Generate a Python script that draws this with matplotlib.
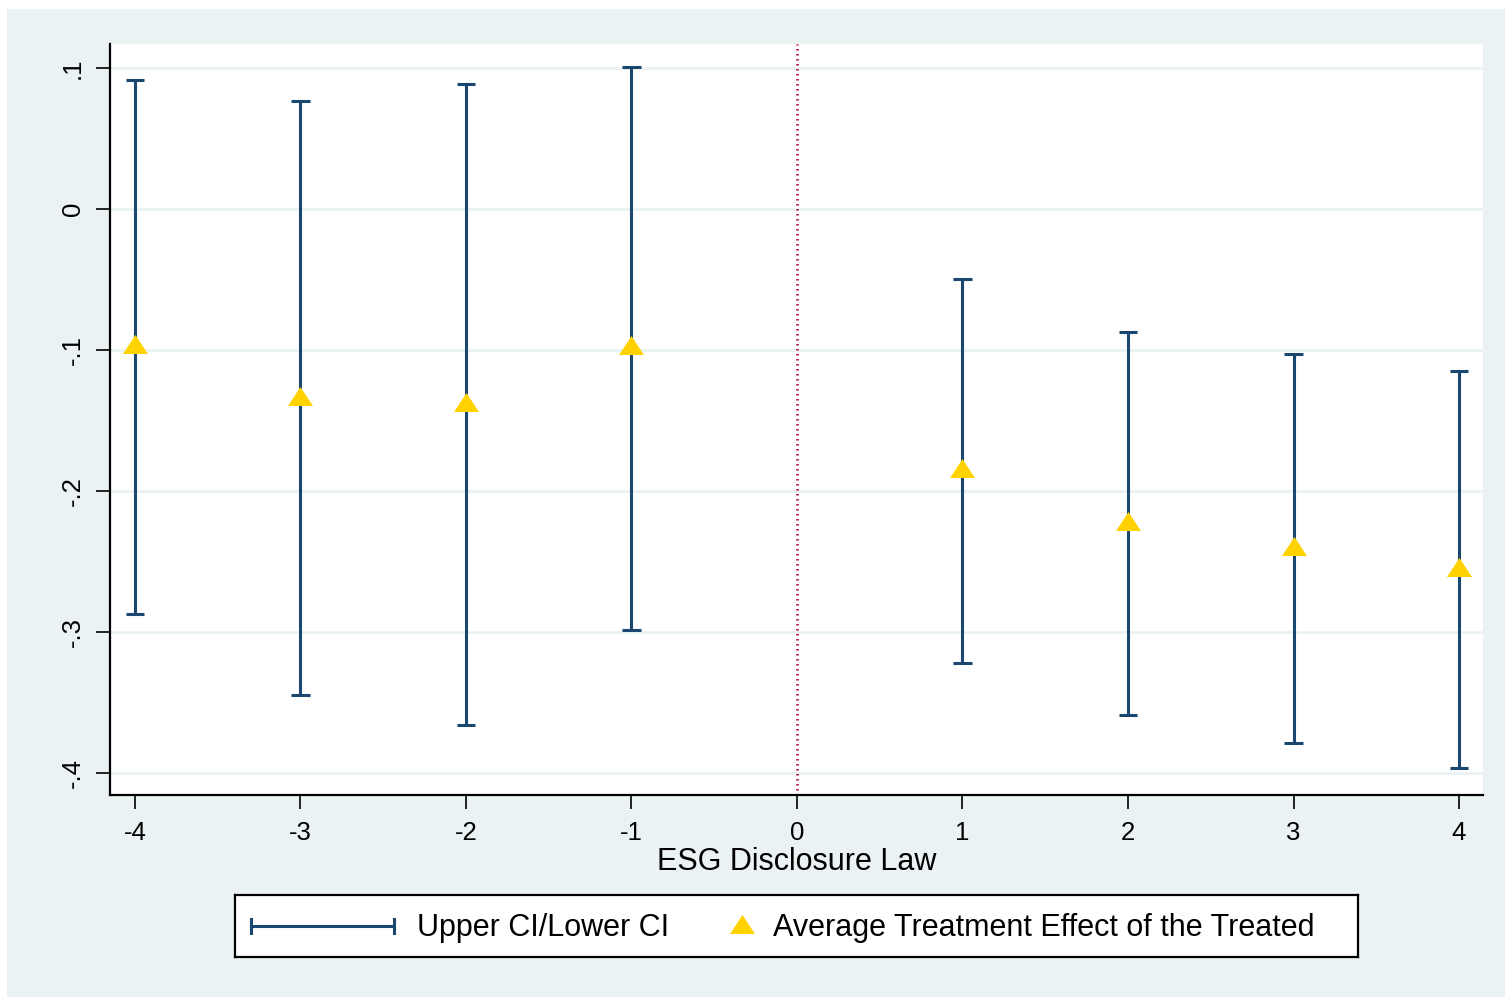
import numpy as np
import matplotlib
matplotlib.use('Agg')
import matplotlib.pyplot as plt
from matplotlib.patches import Rectangle

plt.rcParams['font.family'] = ['Liberation Sans', 'DejaVu Sans']

# event time relative to the ESG disclosure law
periods = [-4, -3, -2, -1, 1, 2, 3, 4]
att = [-0.096, -0.1326, -0.1369, -0.0965, -0.1837, -0.2213, -0.239, -0.2539]
upper_ci = [0.0915, 0.0766, 0.0887, 0.1007, -0.0496, -0.0872, -0.1028, -0.1149]
lower_ci = [-0.2872, -0.3447, -0.366, -0.2986, -0.322, -0.3589, -0.3787, -0.3965]

x_ticks = [-4, -3, -2, -1, 0, 1, 2, 3, 4]
y_ticks = [0.1, 0, -0.1, -0.2, -0.3, -0.4]
y_ticklabels = ['.1', '0', '-.1', '-.2', '-.3', '-.4']

bg = '#eaf2f3'
navy = '#1a476f'
gold = '#ffd200'
red = '#b8003a'
tri = [(0, 0.76), (-1, -0.76), (1, -0.76)]

W, H = 1505, 997
fig = plt.figure(figsize=(W / 100, H / 100), dpi=100)
fig.patch.set_facecolor('white')
fig.patches.append(Rectangle((7 / W, 0), 1 - 7 / W, 1 - 9 / H, transform=fig.transFigure,
                             facecolor=bg, edgecolor='none', zorder=-10))

ax = fig.add_axes([110 / W, 1 - 795 / H, 1373 / W, 751 / H])
ax.set_facecolor('white')
ax.set_xlim(-4.151, 4.145)
ax.set_ylim(-0.4156, 0.117)

for y in y_ticks:
    ax.axhline(y, color=bg, lw=2, zorder=0)

x = np.array(periods)
up = np.array(upper_ci)
lo = np.array(lower_ci)
ax.vlines(x, lo, up, color=navy, lw=2.2, zorder=2)
ax.hlines(np.concatenate([up, lo]), np.concatenate([x, x]) - 0.057,
          np.concatenate([x, x]) + 0.057, color=navy, lw=2.2, zorder=2)
ax.plot(x, att, linestyle='none', marker=tri, markersize=18, color=gold,
        markeredgewidth=0, zorder=3)

ax.axvline(0, color=red, lw=2.0, dashes=(0.5, 1.3), zorder=1)

for s in ['top', 'right']:
    ax.spines[s].set_visible(False)
for s in ['left', 'bottom']:
    ax.spines[s].set_linewidth(1.6)
ax.set_xticks(x_ticks)
ax.set_xticklabels([str(t) for t in x_ticks])
ax.set_yticks(y_ticks)
ax.set_yticklabels(y_ticklabels, rotation=90, va='center')
ax.tick_params(axis='both', direction='out', length=10, width=1.2, labelsize=18.5)
ax.tick_params(axis='y', pad=8)
ax.tick_params(axis='x', pad=9)
ax.set_xlabel('ESG Disclosure Law', fontsize=22, labelpad=1)

# legend box
lg = fig.add_axes([235 / W, 1 - 957 / H, 1123 / W, 62 / H])
lg.set_xlim(235, 1358)
lg.set_ylim(957, 895)
lg.set_xticks([])
lg.set_yticks([])
for s in lg.spines.values():
    s.set_linewidth(1.6)
lg.set_facecolor('white')
ly = 926
lg.plot([251, 394], [ly, ly], color=navy, lw=2.2)
lg.plot([251, 251], [ly - 7, ly + 7], color=navy, lw=2.2)
lg.plot([394, 394], [ly - 7, ly + 7], color=navy, lw=2.2)
lg.text(417, 936, 'Upper CI/Lower CI', fontsize=22, va='baseline', ha='left')
lg.plot([742], [ly - 2], linestyle='none', marker=tri, markersize=18, color=gold, markeredgewidth=0)
lg.text(773, 936, 'Average Treatment Effect of the Treated', fontsize=22, va='baseline', ha='left')

fig.savefig('out.png', dpi=100, facecolor=fig.get_facecolor())
